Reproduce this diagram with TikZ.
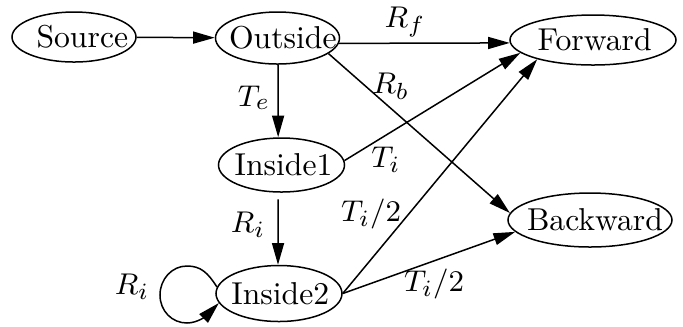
\documentclass[tikz,border=0pt]{standalone}
\usetikzlibrary{shapes.geometric,arrows.meta}
\begin{document}
\begin{tikzpicture}[x=0.3pt,y=-0.3pt,
  every node/.style={font=\fontsize{9.5pt}{11pt}\selectfont},
  st/.style={draw,ellipse,inner sep=0pt,line width=0.45pt},
  edge/.style={line width=0.45pt,-{Triangle[length=6.5pt,width=3.6pt]}},
  lab/.style={inner sep=0pt}]
\useasboundingbox (0,0) rectangle (683,326);
\node[st,minimum width=37.2pt,minimum height=15pt,label={[xshift=2.5pt]center:Source}] (src) at (74,37) {};
\node[st,minimum width=37.2pt,minimum height=15.6pt,label={[xshift=1.6pt]center:Outside}] (out) at (277.5,38) {};
\node[st,minimum width=49.8pt,minimum height=15pt,label={[xshift=0.5pt]center:Forward}] (fwd) at (593,40) {};
\node[st,minimum width=37.8pt,minimum height=16.2pt,label={[xshift=0.6pt]center:Inside1}] (in1) at (281.5,165) {};
\node[st,minimum width=37.8pt,minimum height=16.8pt,label={[xshift=0.4pt]center:Inside2}] (in2) at (279,293.5) {};
\node[st,minimum width=49.2pt,minimum height=16.2pt,label={[xshift=1.5pt]center:Backward}] (bwd) at (590,220) {};

\draw[edge] (src) -- (out);
\draw[edge] (out.-5) -- (fwd.182);
\draw[edge] (out.-17) -- (bwd.175);
\draw[edge] (out.south -| 278,0) -- ([xshift=-1pt]in1.north);
\draw[edge] ([yshift=-2pt,xshift=-1pt]in1.south) -- ([xshift=-0.3pt]in2.north);
\draw[edge] (in1.4) -- (fwd.190);
\draw[edge] (in2.east) -- (fwd.199);
\draw[edge] (in2.east) -- (bwd.189);
\draw[edge] (in2.174) .. controls (208,273) and (201,266) .. (187,266)
  .. controls (172,266) and (160,279) .. (160,295)
  .. controls (160,311) and (172,323) .. (187,323)
  .. controls (198,323) and (207,315) .. (in2.189);

\node[lab] (lrf) at (405,22) {$R_f$};
\node[lab] (lrb) at (391,86) {$R_b$};
\node[lab] (lte) at (254,98) {$T_e$};
\node[lab] (lti) at (386,160) {$T_i$};
\node[lab] (lti2a) at (371,214) {$T_i/2$};
\node[lab] (lti2b) at (434,284) {$T_i/2$};
\node[lab] (lri) at (248,225) {$R_i$};
\node[lab] (lri2) at (132,287) {$R_i$};
\end{tikzpicture}
\end{document}
